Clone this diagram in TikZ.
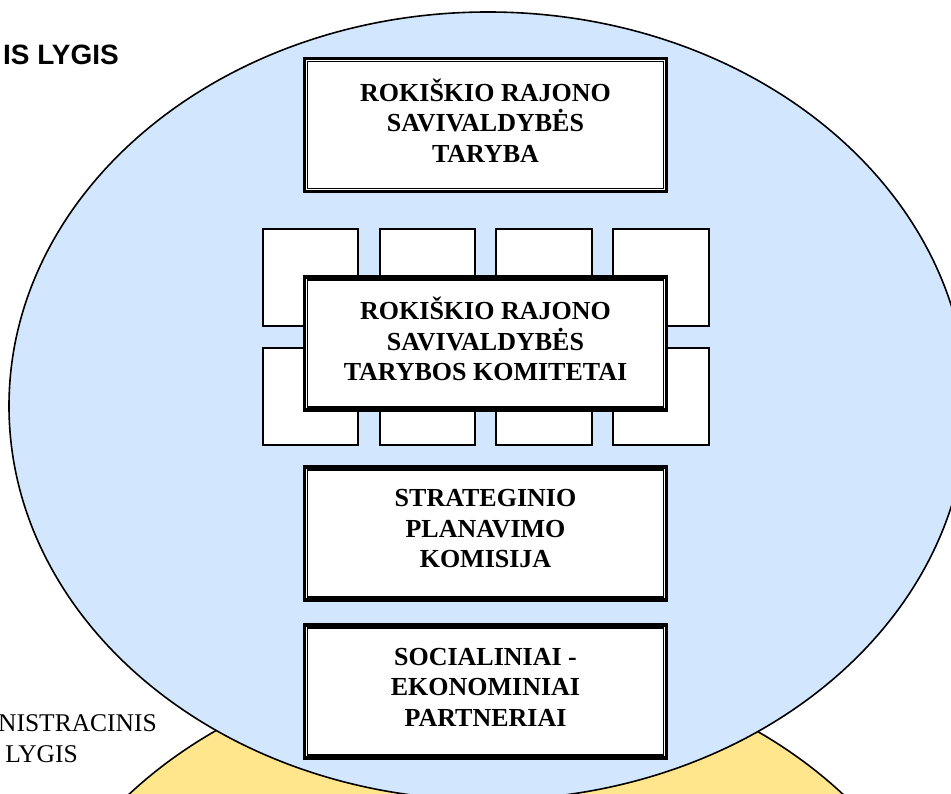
\documentclass[tikz,border=0pt]{standalone}
\usepackage{fontspec}
\setmainfont{Liberation Serif}
\newfontfamily\arialfont{Liberation Sans}
\definecolor{circblue}{HTML}{D2E7FD}
\definecolor{circyellow}{HTML}{FFE68C}
\begin{document}
\begin{tikzpicture}[x=1pt,y=-1pt,
  circ/.style={draw=black, line width=1.6pt},
  sq/.style={draw=black, line width=1.8pt, fill=white, minimum width=95.5pt, minimum height=97.5pt, inner sep=0pt},
  panel/.style={draw=black, line width=3.2pt, fill=white, minimum width=362pt, minimum height=133pt, inner sep=0pt},
  paneltext/.style={align=center, font=\fontsize{26}{30.5}\selectfont\bfseries, inner sep=0pt},
  lvltext/.style={inner sep=0pt, anchor=base east},
]
\useasboundingbox (0,0) rectangle (951,794);
\clip (0,0) rectangle (951,794);
% level circles
\draw[circ, fill=circyellow] (486,1061) ellipse [x radius=479pt, y radius=400pt];
\draw[circ, fill=circblue] (488,406) ellipse [x radius=479pt, y radius=394pt];
% level labels
\node[lvltext, font={\arialfont\bfseries\fontsize{28}{28}\selectfont}] (lvlpol) at (119,65) {IS LYGIS};
\node[lvltext, font={\fontsize{25.5}{30}\selectfont}] (lvladm) at (157,731) {NISTRACINIS};
\node[lvltext, font={\fontsize{25.5}{30}\selectfont}] (lvladmb) at (78,762) {LYGIS};
% committee squares
\node[sq] (s1) at (310.5,277.5) {};
\node[sq] (s2) at (427.5,277.5) {};
\node[sq] (s3) at (544,277.5) {};
\node[sq] (s4) at (661,277.5) {};
\node[sq] (s5) at (310.5,396.5) {};
\node[sq] (s6) at (427.5,396.5) {};
\node[sq] (s7) at (544,396.5) {};
\node[sq] (s8) at (661,396.5) {};
% panels
\node[panel] (b1) at (485.5,125) {};
\node[panel] (b2) at (485.5,343.5) {};
\node[panel] (b3) at (485.5,533.5) {};
\node[panel] (b4) at (485.5,691.5) {};
\foreach \b in {b1,b2,b3,b4}
  \draw[line width=1.5pt] ([shift={(4.4pt,-4.4pt)}]\b.north west) rectangle ([shift={(-4.4pt,4.4pt)}]\b.south east);
\node[paneltext] (t1) at ([yshift=4.5pt]b1.center) {ROKIŠKIO RAJONO\\SAVIVALDYBĖS\\TARYBA};
\node[paneltext] (t2) at ([yshift=4.5pt]b2.center) {ROKIŠKIO RAJONO\\SAVIVALDYBĖS\\TARYBOS KOMITETAI};
\node[paneltext] (t3) at ([yshift=4.5pt]b3.center) {STRATEGINIO\\PLANAVIMO\\KOMISIJA};
\node[paneltext] (t4) at ([yshift=4.5pt]b4.center) {SOCIALINIAI -\\EKONOMINIAI\\PARTNERIAI};
\end{tikzpicture}
\end{document}
